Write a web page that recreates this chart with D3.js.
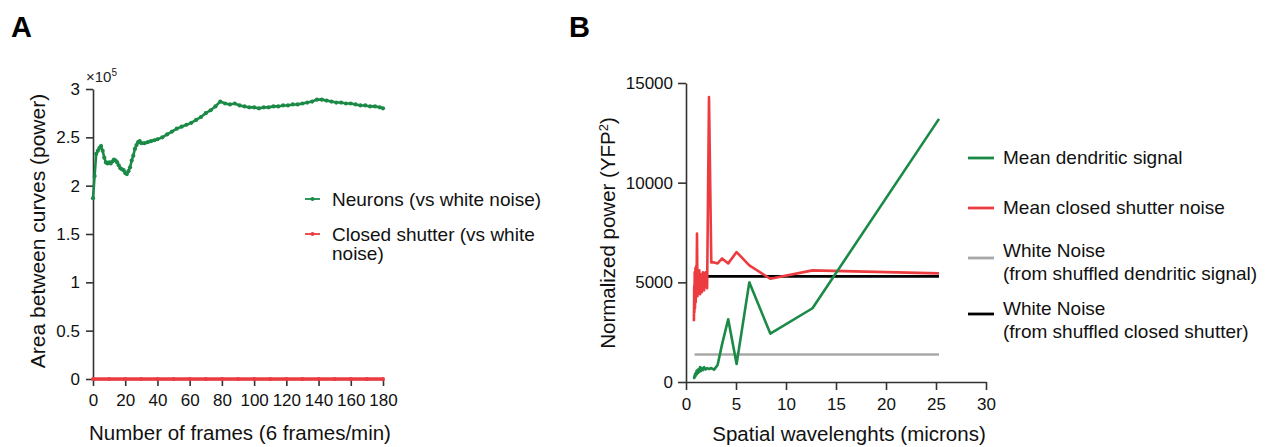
<!DOCTYPE html>
<html>
<head>
<meta charset="utf-8">
<script src="https://cdn.jsdelivr.net/npm/d3@7"></script>
<style>
  body { margin: 0; background: #fff; }
  svg { font-family: "Liberation Sans", Arial, sans-serif; }
</style>
</head>
<body>
<script>
// ---- Panel A: area between curves (x10^5) ----
const frames = [0,1,2,3,4,5,6,7,8,9,10,11,12,13,14,15,16,17,18,19,20,21,22,23,24,25,26,27,28,29,30,
  32,34,36,38,40,43,46,49,52,55,58,61,64,67,70,73,76,79,82,85,88,91,94,97,100,103,106,109,112,115,
  118,121,124,127,130,133,136,139,142,145,148,151,154,157,160,163,166,169,172,175,178,180]
const neuronArea = [1.87,2.10,2.33,2.36,2.39,2.41,2.36,2.29,2.24,2.23,2.24,2.23,2.25,2.27,2.26,2.24,2.21,2.18,2.17,2.16,2.13,2.12,2.15,2.19,2.26,2.31,2.38,2.42,2.45,2.46,2.44,
  2.44,2.45,2.46,2.47,2.48,2.50,2.53,2.56,2.59,2.61,2.63,2.65,2.68,2.71,2.75,2.78,2.82,2.87,2.85,2.84,2.85,2.83,2.82,2.81,2.81,2.80,2.81,2.81,2.82,2.82,
  2.83,2.83,2.84,2.84,2.85,2.86,2.87,2.89,2.89,2.88,2.87,2.86,2.86,2.85,2.85,2.84,2.83,2.83,2.82,2.82,2.81,2.80]
const shutterFrames = [0,10,20,30,40,50,60,70,80,90,100,110,120,130,140,150,160,170,180]
const shutterArea = [0,0,0,0,0,0,0,0,0,0,0,0,0,0,0,0,0,0,0]
const aTicksX = [0,20,40,60,80,100,120,140,160,180]
const aTicksY = [0,0.5,1,1.5,2,2.5,3]

// ---- Panel B: normalized power vs spatial wavelength ----
const wavelengths = [25.3,12.65,8.43,6.33,5.06,4.22,3.61,3.16,2.81,2.53,2.30,2.11,1.95,1.81,1.69,1.58,
  1.49,1.41,1.33,1.27,1.20,1.15,1.10,1.05,1.01,0.97,0.94,0.90,0.87,0.84,0.82,0.79]
const dendritic = [13200,3700,2430,5000,900,3150,1900,850,620,700,650,700,620,750,600,700,
  550,750,500,650,450,600,400,550,350,450,300,400,250,300,200,250]
const closedNoise = [5450,5600,5180,5850,6520,5950,6200,5950,6000,6000,14300,4700,5500,4600,5500,4500,
  5400,4400,5600,4500,5200,4300,7450,4300,5800,4000,5700,3700,5500,3500,4800,3050]
const whiteX = [0.86,25.3]
const whiteDendritic = [1380,1380]
const whiteShutter = [5300,5300]
const bTicksX = [0,5,10,15,20,25,30]
const bTicksY = [0,5000,10000,15000]

const green = "#1b8a47", red = "#ec3c40", gray = "#a8a8a8", axisCol = "#333"

let svg = d3.select("body").append("svg")
  .attr("width", 1270)
  .attr("height", 447)

function styleAxis(g) {
  g.select(".domain").attr("stroke", axisCol).attr("stroke-width", 1.6)
  g.selectAll(".tick line").attr("stroke", axisCol).attr("stroke-width", 1.6)
  g.selectAll(".tick text").attr("fill", "#111").style("font-size", "17px")
}

// ================= Panel A =================
let xA = d3.scaleLinear().domain([0, 180]).range([93, 383])
let yA = d3.scaleLinear().domain([0, 3]).range([379, 89])

svg.append("text").attr("x", 11).attr("y", 37)
  .style("font-size", "29px").style("font-weight", "bold").text("A")

svg.append("g").attr("transform", "translate(0,379)")
  .call(d3.axisBottom(xA).tickValues(aTicksX).tickSize(7).tickPadding(8).tickSizeOuter(0))
  .call(styleAxis)

svg.append("g").attr("transform", "translate(93,0)")
  .call(d3.axisLeft(yA).tickValues(aTicksY).tickSize(7).tickPadding(6).tickSizeOuter(0)
    .tickFormat(d => d3.format("")(d)))
  .call(styleAxis)

let exp = svg.append("text").attr("x", 86).attr("y", 82).style("font-size", "15px").attr("fill", "#222")
exp.append("tspan").text("\u00d710")
exp.append("tspan").attr("dy", -6).style("font-size", "10px").text("5")

svg.append("text").attr("x", 240).attr("y", 440).attr("text-anchor", "middle")
  .style("font-size", "20.5px").attr("fill", "#111").text("Number of frames (6 frames/min)")
svg.append("text").attr("transform", "translate(45,231) rotate(-90)").attr("text-anchor", "middle")
  .style("font-size", "21px").attr("fill", "#111").text("Area between curves (power)")

let lineA = d3.line().x(d => xA(d[0])).y(d => yA(d[1]))

let shutterPts = shutterFrames.map((f, i) => [f, shutterArea[i]])
svg.append("path").attr("d", lineA(shutterPts))
  .attr("fill", "none").attr("stroke", red).attr("stroke-width", 3.6)
svg.append("g").selectAll("circle").data(shutterPts).enter().append("circle")
  .attr("cx", d => xA(d[0])).attr("cy", d => yA(d[1])).attr("r", 2).attr("fill", red)

let neuronPts = frames.map((f, i) => [f, neuronArea[i]])
svg.append("path").attr("d", lineA(neuronPts))
  .attr("fill", "none").attr("stroke", green).attr("stroke-width", 2.6)
svg.append("g").selectAll("circle").data(neuronPts).enter().append("circle")
  .attr("cx", d => xA(d[0])).attr("cy", d => yA(d[1])).attr("r", 2.1).attr("fill", green)

// legend A
let legA = [
  { color: green, y: 199, lines: ["Neurons (vs white noise)"] },
  { color: red, y: 234, lines: ["Closed shutter (vs white", "noise)"] }
]
legA.forEach(d => {
  svg.append("line").attr("x1", 305).attr("x2", 320).attr("y1", d.y).attr("y2", d.y)
    .attr("stroke", d.color).attr("stroke-width", 1.8)
  svg.append("circle").attr("cx", 312.5).attr("cy", d.y).attr("r", 2).attr("fill", d.color)
  d.lines.forEach((t, i) => {
    svg.append("text").attr("x", 332).attr("y", d.y + i * 19.5).attr("dy", "0.35em")
      .style("font-size", "19px").attr("fill", "#111").text(t)
  })
})

// ================= Panel B =================
let xB = d3.scaleLinear().domain([0, 30]).range([686, 986])
let yB = d3.scaleLinear().domain([0, 15000]).range([382, 83])

svg.append("text").attr("x", 569).attr("y", 37)
  .style("font-size", "29px").style("font-weight", "bold").text("B")

svg.append("g").attr("transform", "translate(0,382)")
  .call(d3.axisBottom(xB).tickValues(bTicksX).tickSize(8).tickPadding(8).tickSizeOuter(0))
  .call(styleAxis)

svg.append("g").attr("transform", "translate(686,0)")
  .call(d3.axisLeft(yB).tickValues(bTicksY).tickSize(8).tickPadding(5).tickSizeOuter(0)
    .tickFormat(d3.format("d")))
  .call(styleAxis)

svg.append("text").attr("x", 849).attr("y", 441).attr("text-anchor", "middle")
  .style("font-size", "20.5px").attr("fill", "#111").text("Spatial wavelenghts (microns)")
let yt = svg.append("text").attr("transform", "translate(615,233) rotate(-90)").attr("text-anchor", "middle")
  .style("font-size", "20.5px").attr("fill", "#111")
yt.append("tspan").text("Normalized power (YFP")
yt.append("tspan").attr("dy", -7).style("font-size", "13px").text("2")
yt.append("tspan").attr("dy", 7).text(")")

let lineB = d3.line().x(d => xB(d[0])).y(d => yB(d[1]))

svg.append("path").attr("d", lineB(whiteX.map((x, i) => [x, whiteDendritic[i]])))
  .attr("fill", "none").attr("stroke", gray).attr("stroke-width", 2.6)
svg.append("path").attr("d", lineB(whiteX.map((x, i) => [x, whiteShutter[i]])))
  .attr("fill", "none").attr("stroke", "#000").attr("stroke-width", 2.6)
svg.append("path").attr("d", lineB(wavelengths.map((x, i) => [x, closedNoise[i]])))
  .attr("fill", "none").attr("stroke", red).attr("stroke-width", 2.6).attr("stroke-linejoin", "round")
svg.append("path").attr("d", lineB(wavelengths.map((x, i) => [x, dendritic[i]])))
  .attr("fill", "none").attr("stroke", green).attr("stroke-width", 2.6).attr("stroke-linejoin", "round")

// legend B
let legB = [
  { color: green, y: 158, lines: ["Mean dendritic signal"] },
  { color: red, y: 208, lines: ["Mean closed shutter noise"] },
  { color: gray, y: 258, ty: 250, lines: ["White Noise", "(from shuffled dendritic signal)"] },
  { color: "#000", y: 314, ty: 308, lines: ["White Noise", "(from shuffled closed shutter)"] }
]
legB.forEach(d => {
  svg.append("line").attr("x1", 968).attr("x2", 994).attr("y1", d.y).attr("y2", d.y)
    .attr("stroke", d.color).attr("stroke-width", 2.8)
  let ty = d.ty || d.y - 1
  d.lines.forEach((t, i) => {
    svg.append("text").attr("x", 1003).attr("y", ty + i * 23).attr("dy", "0.35em")
      .style("font-size", "19px").attr("fill", "#111").text(t)
  })
})
</script>
</body>
</html>
